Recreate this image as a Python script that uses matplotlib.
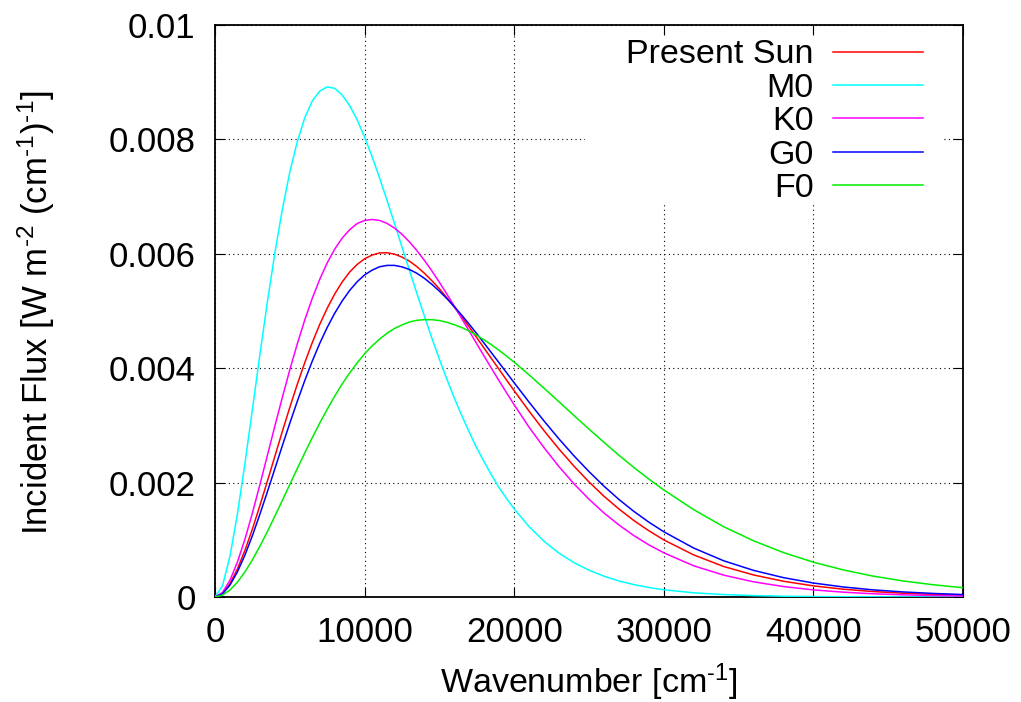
import matplotlib
matplotlib.use("Agg")
import matplotlib.pyplot as plt
import numpy as np
from matplotlib.patches import Rectangle

# wavenumber grid [cm^-1]
wavenumber = (list(range(0, 20001, 500))
              + list(range(21000, 30001, 1000))
              + list(range(32000, 50001, 2000)))

# incident flux, in units of 1e-3 W m^-2 (cm^-1)^-1
flux_sun = [0, 0.062, 0.232, 0.490, 0.815, 1.189, 1.599, 2.025, 2.460, 2.894,
            3.316, 3.719, 4.097, 4.447, 4.766, 5.049, 5.297, 5.508, 5.681, 5.814,
            5.913, 5.978, 6.015, 6.018, 5.994, 5.942, 5.871, 5.774, 5.659, 5.529,
            5.387, 5.231, 5.066, 4.894, 4.717, 4.531, 4.346, 4.160, 3.975, 3.788,
            3.605,
            3.247, 2.905, 2.584, 2.286, 2.011, 1.761, 1.538, 1.336, 1.158, 0.998,
            0.735, 0.533, 0.385, 0.275, 0.194, 0.136, 0.095, 0.066, 0.045, 0.031]
flux_m0 = [0, 0.197, 0.715, 1.455, 2.336, 3.281, 4.238, 5.160, 6.013, 6.778,
           7.431, 7.961, 8.377, 8.672, 8.844, 8.918, 8.892, 8.775, 8.590, 8.343,
           8.038, 7.697, 7.327, 6.932, 6.528, 6.117, 5.707, 5.302, 4.908, 4.522,
           4.155, 3.807, 3.475, 3.168, 2.878, 2.603, 2.357, 2.125, 1.907, 1.717,
           1.539,
           1.228, 0.972, 0.765, 0.600, 0.468, 0.364, 0.280, 0.216, 0.166, 0.126,
           0.073, 0.042, 0.024, 0.013, 0.007, 0.004, 0.002, 0.001, 0.001, 0.000]
flux_k0 = [0, 0.078, 0.292, 0.613, 1.010, 1.469, 1.965, 2.475, 2.988, 3.490,
           3.973, 4.426, 4.844, 5.221, 5.554, 5.841, 6.081, 6.274, 6.421, 6.529,
           6.583, 6.600, 6.583, 6.531, 6.449, 6.341, 6.207, 6.054, 5.883, 5.698,
           5.501, 5.295, 5.081, 4.864, 4.646, 4.425, 4.205, 3.989, 3.774, 3.566,
           3.359,
           2.965, 2.608, 2.276, 1.977, 1.709, 1.469, 1.259, 1.073, 0.911, 0.772,
           0.545, 0.382, 0.265, 0.182, 0.124, 0.084, 0.056, 0.038, 0.025, 0.017]
flux_g0 = [0, 0.055, 0.208, 0.440, 0.733, 1.073, 1.447, 1.839, 2.242, 2.645,
           3.039, 3.421, 3.784, 4.123, 4.434, 4.713, 4.960, 5.175, 5.359, 5.511,
           5.631, 5.714, 5.773, 5.797, 5.797, 5.771, 5.725, 5.658, 5.570, 5.465,
           5.346, 5.216, 5.075, 4.925, 4.766, 4.602, 4.433, 4.262, 4.091, 3.917,
           3.744,
           3.404, 3.075, 2.761, 2.466, 2.192, 1.937, 1.705, 1.496, 1.308, 1.140,
           0.855, 0.633, 0.465, 0.338, 0.244, 0.175, 0.124, 0.088, 0.062, 0.043]
flux_f0 = [0, 0.032, 0.122, 0.260, 0.439, 0.650, 0.887, 1.143, 1.413, 1.688,
           1.967, 2.246, 2.519, 2.785, 3.041, 3.282, 3.510, 3.725, 3.916, 4.092,
           4.253, 4.390, 4.508, 4.611, 4.695, 4.756, 4.808, 4.837, 4.849, 4.848,
           4.833, 4.802, 4.760, 4.709, 4.648, 4.574, 4.493, 4.405, 4.310, 4.210,
           4.105,
           3.882, 3.648, 3.411, 3.171, 2.935, 2.704, 2.478, 2.264, 2.062, 1.871,
           1.527, 1.228, 0.982, 0.776, 0.608, 0.473, 0.364, 0.280, 0.214, 0.162]

series = [
    ("Present Sun", flux_sun, "#ff0000"),
    ("M0", flux_m0, "#00ffff"),
    ("K0", flux_k0, "#ff00ff"),
    ("G0", flux_g0, "#0000ff"),
    ("F0", flux_f0, "#00ee00"),
]

xticks = [0, 10000, 20000, 30000, 40000, 50000]
xtick_labels = ["0", "10000", "20000", "30000", "40000", "50000"]
yticks = [0, 0.002, 0.004, 0.006, 0.008, 0.01]
ytick_labels = ["0", "0.002", "0.004", "0.006", "0.008", "0.01"]

plt.rcParams["font.family"] = ["Liberation Sans", "DejaVu Sans"]
plt.rcParams["mathtext.fontset"] = "custom"
plt.rcParams["mathtext.rm"] = "Liberation Sans"
plt.rcParams["mathtext.it"] = "Liberation Sans:italic"
plt.rcParams["mathtext.bf"] = "Liberation Sans:bold"

TICK_FS = 25
TEXT_FS = 24.5

fig = plt.figure(figsize=(10.21, 7.02), dpi=100)
ax = fig.add_axes([0.2106, 0.1496, 0.7326, 0.8148])

for label, flux, color in series:
    ax.plot(wavenumber, np.array(flux) * 1e-3, color=color, lw=1.1,
            label=label, zorder=3)

ax.set_xlim(0, 50000)
ax.set_ylim(0, 0.01)
ax.set_xticks(xticks)
ax.set_xticklabels(xtick_labels)
ax.set_yticks(yticks)
ax.set_yticklabels(ytick_labels)
ax.tick_params(direction="in", length=7, width=0.8, top=True, right=True,
               labelsize=TICK_FS, pad=14)

ax.set_axisbelow(True)
ax.grid(True, color="black", lw=0.8, linestyle=(0, (1, 3)))
for sp in ax.spines.values():
    sp.set_linewidth(1.3)

# opaque area behind the key
ax.add_patch(Rectangle((0.4947, 0.6888), 0.4786, 0.292, transform=ax.transAxes,
                       facecolor="white", edgecolor="none", zorder=1))

leg = ax.legend(loc="upper right", bbox_to_anchor=(0.9465, 0.9747),
                markerfirst=False, frameon=False, fontsize=TEXT_FS,
                handlelength=2.65, handletextpad=0.56, labelspacing=0.07,
                borderpad=0, borderaxespad=0)

ax.set_xlabel(r"Wavenumber [cm$^{\text{-1}}$]", fontsize=TEXT_FS)
ax.xaxis.set_label_coords(0.5, -0.113)
ax.set_ylabel(r"Incident Flux [W m$^{\text{-2}}$ (cm$^{\text{-1}}$)$^{\text{-1}}$]",
              fontsize=25)
ax.yaxis.set_label_coords(-0.211, 0.497)

fig.savefig("out.png", dpi=100)
